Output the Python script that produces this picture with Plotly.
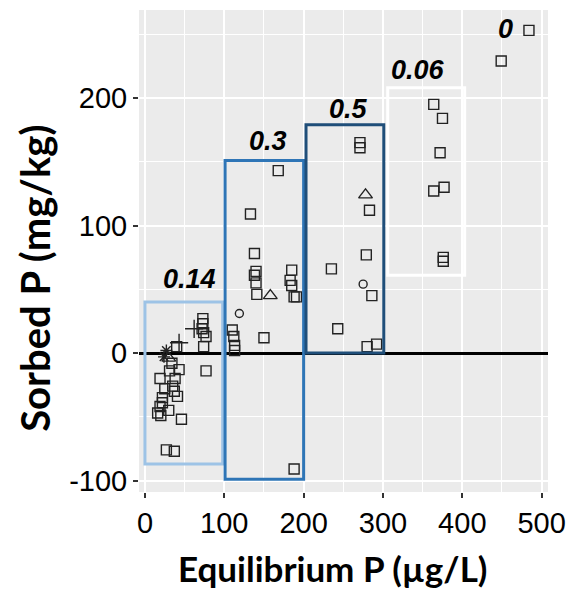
import plotly.graph_objects as go

# ---- data (Equilibrium P in µg/L, Sorbed P in mg/kg) ----
sq_x = [484, 449,
        364, 375, 372, 364, 377, 376, 376,
        271, 271, 283, 279, 235, 286, 243, 280, 292,
        168, 133, 138, 140, 138, 140, 141, 185, 183, 185, 188, 191, 150, 110, 112, 113, 113, 188,
        73, 73, 72, 74, 77, 74, 77, 40, 43, 31, 19, 35, 37, 41, 22, 22, 19, 16, 20, 46, 27, 37,
        34, 38, 25, 30]
sq_y = [253, 229,
        195, 184, 157, 127, 130, 75, 72,
        165, 161, 112, 77, 66, 45, 19, 5, 7,
        143, 109, 78, 64, 61, 55, 46, 65, 57, 53, 44, 44, 12, 18, 13, 6, 2, -91,
        27, 23, 19, 16, 13, 5, -14, 5, -13, -14, -20, -26, -30, -34, -35, -39, -42, -47, -49, -52, -76, -77,
        -8, -20, -28, -45]
tri_x = [278, 158, 30]
tri_y = [124, 45, -4]
circ_x = [275, 119]
circ_y = [54, 31]
plus_x = [62, 43]
plus_y = [19, 8]
star_x = [27, 24]
star_y = [2, -3]

box_x0 = [0, 101, 203, 306]
box_x1 = [98, 200, 301, 403]
box_y0 = [-87, -99, 0, 61]
box_y1 = [40, 151, 179, 208]
box_colors = ["#9DC3E6", "#2E75B6", "#1F4E79", "#FFFFFF"]

label_text = ["0.14", "0.3", "0.5", "0.06", "0"]
label_x = [56, 155, 257, 344, 455]
label_y = [58, 166, 191, 222, 254]

x_ticks = [0, 100, 200, 300, 400, 500]
y_ticks = [-100, 0, 100, 200]
y_ticktext = ["-100", "0", "100", "200"]

mk_line = dict(color="#222222", width=1.4)
fig = go.Figure()
fig.add_trace(go.Scatter(x=sq_x, y=sq_y, mode="markers",
                         marker=dict(symbol="square-open", size=10, color="#222222", line=mk_line)))
fig.add_trace(go.Scatter(x=tri_x, y=tri_y, mode="markers",
                         marker=dict(symbol="triangle-up-open", size=12, color="#222222", line=mk_line)))
fig.add_trace(go.Scatter(x=circ_x, y=circ_y, mode="markers",
                         marker=dict(symbol="circle-open", size=8, color="#222222", line=mk_line)))
fig.add_trace(go.Scatter(x=plus_x, y=plus_y, mode="markers",
                         marker=dict(symbol="cross-thin-open", size=13, color="#222222", line=mk_line)))
fig.add_trace(go.Scatter(x=star_x, y=star_y, mode="markers",
                         marker=dict(symbol="asterisk-open", size=10, color="#222222", line=mk_line)))

for x0, x1, y0, y1, c in zip(box_x0, box_x1, box_y0, box_y1, box_colors):
    fig.add_shape(type="rect", x0=x0, x1=x1, y0=y0, y1=y1, xref="x", yref="y",
                  line=dict(color=c, width=3), fillcolor="rgba(0,0,0,0)")

for t, x, y in zip(label_text, label_x, label_y):
    fig.add_annotation(x=x, y=y, text="<b><i>" + t + "</i></b>", showarrow=False,
                       font=dict(family="Liberation Sans", size=27, color="#000000"))

# axis titles as annotations (positioned like the reference)
fig.add_annotation(text="<b>Equilibrium P (µg/L)</b>", xref="paper", yref="paper",
                   x=(336 - 139) / 416, y=-(568 - 492) / 482, xanchor="center", yanchor="middle",
                   showarrow=False, font=dict(family="Lato", size=35, color="#000000"))
fig.add_annotation(text="<b>Sorbed P (mg/kg)</b>", xref="paper", yref="paper", textangle=-90,
                   x=-(139 - 33) / 416, y=(492 - 278) / 482, xanchor="center", yanchor="middle",
                   showarrow=False, font=dict(family="Lato", size=40, color="#000000"))

fig.update_layout(
    width=576, height=591,
    margin=dict(l=139, r=21, t=10, b=99),
    paper_bgcolor="white", plot_bgcolor="#EBEBEB",
    showlegend=False,
    xaxis=dict(range=[-7.5, 508], tickvals=x_ticks, ticks="outside", ticklen=5, tickwidth=1.5,
               tickcolor="#333333", showgrid=True, gridcolor="white", gridwidth=1.5,
               minor=dict(dtick=50, showgrid=True, gridcolor="white", gridwidth=1),
               zeroline=False, showline=False,
               tickfont=dict(family="Liberation Sans", size=29, color="#000000")),
    yaxis=dict(range=[-109, 269], tickvals=y_ticks, ticktext=y_ticktext, ticks="outside",
               ticklen=5, tickwidth=1.5,
               tickcolor="#333333", showgrid=True, gridcolor="white", gridwidth=1.5,
               minor=dict(dtick=50, showgrid=True, gridcolor="white", gridwidth=1),
               zeroline=True, zerolinecolor="#000000", zerolinewidth=2.5, showline=False,
               tickfont=dict(family="Liberation Sans", size=29, color="#000000")),
)
fig.write_html("out.html")
